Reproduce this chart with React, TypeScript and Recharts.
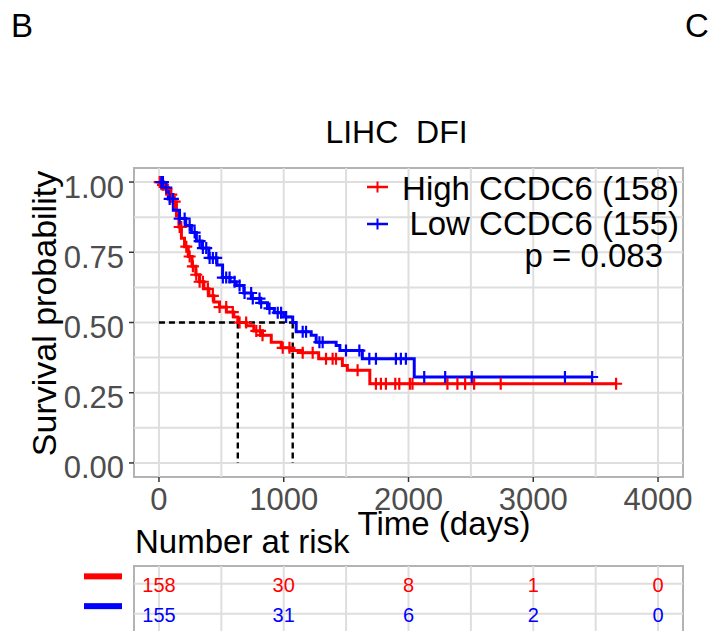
import React from "react";
import {
  ComposedChart,
  Line,
  Scatter,
  XAxis,
  YAxis,
  ReferenceLine,
  ReferenceArea,
} from "recharts";

const FONT = "'Liberation Sans', Arial, Helvetica, sans-serif";

// Kaplan-Meier steps
const highTimes = [0, 25, 55, 85, 115, 140, 160, 180, 205, 235, 265, 295, 325, 360, 400, 440, 485, 540, 600, 632, 700, 760, 830, 900, 980, 1050, 1150, 1280, 1470, 1510, 1690, 3664];
const highSurv = [1, 0.99, 0.975, 0.955, 0.93, 0.88, 0.84, 0.8, 0.77, 0.735, 0.7, 0.67, 0.645, 0.62, 0.595, 0.573, 0.555, 0.537, 0.52, 0.5, 0.488, 0.47, 0.455, 0.43, 0.41, 0.4, 0.392, 0.371, 0.347, 0.33, 0.282, 0.282];
const lowTimes = [0, 35, 75, 115, 165, 215, 260, 300, 345, 400, 465, 510, 570, 620, 680, 740, 810, 870, 925, 1000, 1072, 1100, 1220, 1260, 1420, 1450, 1630, 2046, 3472];
const lowSurv = [1, 0.98, 0.94, 0.9, 0.87, 0.845, 0.82, 0.79, 0.765, 0.73, 0.705, 0.66, 0.645, 0.632, 0.605, 0.585, 0.57, 0.55, 0.535, 0.52, 0.5, 0.467, 0.455, 0.43, 0.418, 0.4, 0.371, 0.306, 0.306];

const highCensor = [6, 32, 59, 99, 126, 166, 179, 219, 246, 272, 299, 326, 352, 392, 432, 486, 539, 592, 646, 699, 780, 810, 830, 992, 1046, 1152, 1232, 1339, 1392, 1419, 1592, 1739, 1779, 1819, 1894, 1926, 2011, 2032, 2312, 2392, 2454, 2526, 2739, 3664];
const lowCensor = [19, 32, 59, 86, 112, 166, 206, 246, 286, 326, 352, 379, 406, 432, 459, 512, 539, 566, 606, 646, 686, 739, 752, 806, 819, 886, 952, 979, 1019, 1152, 1179, 1286, 1312, 1499, 1606, 1686, 1739, 1899, 1939, 1979, 2126, 2294, 2507, 3254, 3472];

const medianTimes = [632, 1072];

const seriesNames = ["High CCDC6 (158)", " Low CCDC6 (155)"];
const seriesColors = ["#ff0000", "#0000ff"];
const pText = "p = 0.083";
const title = "LIHC  DFI";

const xTicks = [0, 1000, 2000, 3000, 4000];
const yTicks = [0, 0.25, 0.5, 0.75, 1];
const xGrid = [0, 500, 1000, 1500, 2000, 2500, 3000, 3500, 4000];
const yGrid = [0, 0.125, 0.25, 0.375, 0.5, 0.625, 0.75, 0.875, 1];

const riskTimes = [0, 1000, 2000, 3000, 4000];
const highRisk = [158, 30, 8, 1, 0];
const lowRisk = [155, 31, 6, 2, 0];

const GRID = "#dedede";
const BORDER = "#b3b3b3";

function survAt(times: number[], surv: number[], t: number) {
  let s = surv[0];
  for (let i = 0; i < times.length; i++) {
    if (times[i] <= t) s = surv[i];
  }
  return s;
}

const highData = highTimes.map((t, i) => ({ t, s: highSurv[i] }));
const lowData = lowTimes.map((t, i) => ({ t, s: lowSurv[i] }));
const highCens = highCensor.map((t) => ({ t, s: survAt(highTimes, highSurv, t) }));
const lowCens = lowCensor.map((t) => ({ t, s: survAt(lowTimes, lowSurv, t) }));

const riskData = [
  ...riskTimes.map((t, i) => ({ t, row: 1, n: highRisk[i], c: seriesColors[0] })),
  ...riskTimes.map((t, i) => ({ t, row: 0, n: lowRisk[i], c: seriesColors[1] })),
];

const plus = (color: string) => (props: any) => {
  const { cx, cy } = props;
  return (
    <path
      d={`M${cx - 6},${cy}H${cx + 6}M${cx},${cy - 6}V${cy + 6}`}
      stroke={color}
      strokeWidth={2.2}
      fill="none"
    />
  );
};

function XTick({ x, y, payload }: any) {
  return (
    <text x={x} y={y} dy={26} textAnchor="middle" fontSize={31} fill="#4d4d4d" fontFamily={FONT}>
      {payload.value}
    </text>
  );
}

function YTick({ x, y, payload }: any) {
  return (
    <text x={x} y={y} dy={15.5} textAnchor="end" fontSize={31} fill="#4d4d4d" fontFamily={FONT}>
      {Number(payload.value).toFixed(2)}
    </text>
  );
}

function RowTick({ x, y, payload }: any) {
  const color = payload.value === 1 ? seriesColors[0] : seriesColors[1];
  return <rect x={x - 38} y={y - 10.5} width={38} height={6} fill={color} />;
}

function RiskLabel(props: any) {
  const { cx, cy, payload } = props;
  return (
    <text x={cx} y={cy + 1.5} textAnchor="middle" dominantBaseline="central" fontSize={20} fill={payload.c} fontFamily={FONT}>
      {payload.n}
    </text>
  );
}

export default function App() {
  return (
    <div style={{ position: "absolute", left: 0, top: 0, width: 712, height: 631, overflow: "hidden", background: "#fff" }}>
      <div style={{ position: "absolute", left: 0, top: 0 }}>
        <ComposedChart width={712} height={520} margin={{ top: 168, right: 29, bottom: 0, left: 0 }}>
          <XAxis
            type="number"
            dataKey="t"
            domain={[-200, 4200]}
            ticks={xTicks}
            interval={0}
            allowDataOverflow
            height={43}
            axisLine={false}
            tickSize={5}
            tickMargin={2}
            tickLine={{ stroke: "#333", strokeWidth: 1.5 }}
            tick={<XTick />}
          />
          <YAxis
            type="number"
            dataKey="s"
            domain={[-0.05, 1.05]}
            ticks={yTicks}
            interval={0}
            allowDataOverflow
            width={134}
            axisLine={false}
            tickSize={5}
            tickMargin={5}
            tickLine={{ stroke: "#333", strokeWidth: 1.5 }}
            tick={<YTick />}
          />
          {xGrid.map((v) => (
            <ReferenceLine key={`gx${v}`} x={v} stroke={GRID} strokeWidth={2} />
          ))}
          {yGrid.map((v) => (
            <ReferenceLine key={`gy${v}`} y={v} stroke={GRID} strokeWidth={2} />
          ))}
          <ReferenceLine
            segment={[{ x: 0, y: 0.5 }, { x: medianTimes[1], y: 0.5 }]}
            stroke="#000"
            strokeWidth={2.4}
            strokeDasharray="6 4"
          />
          {medianTimes.map((m) => (
            <ReferenceLine
              key={`m${m}`}
              segment={[{ x: m, y: 0.5 }, { x: m, y: 0 }]}
              stroke="#000"
              strokeWidth={2.4}
              strokeDasharray="6 4"
            />
          ))}
          <Line data={highData} dataKey="s" type="stepAfter" stroke={seriesColors[0]} strokeWidth={3} dot={false} isAnimationActive={false} />
          <Line data={lowData} dataKey="s" type="stepAfter" stroke={seriesColors[1]} strokeWidth={3} dot={false} isAnimationActive={false} />
          <Scatter data={highCens} dataKey="s" shape={plus(seriesColors[0])} isAnimationActive={false} />
          <Scatter data={lowCens} dataKey="s" shape={plus(seriesColors[1])} isAnimationActive={false} />
          <ReferenceArea x1={-200} x2={4200} y1={-0.05} y2={1.05} fill="none" stroke={BORDER} strokeWidth={2} ifOverflow="visible" />
        </ComposedChart>
      </div>

      <div style={{ position: "absolute", left: 0, top: 540 }}>
        <ComposedChart width={712} height={93} margin={{ top: 26, right: 29, bottom: 0, left: 0 }}>
          <XAxis type="number" dataKey="t" domain={[-200, 4200]} allowDataOverflow hide />
          <YAxis
            type="number"
            dataKey="row"
            domain={[-0.65, 1.6]}
            ticks={[0, 1]}
            interval={0}
            width={134}
            axisLine={false}
            tickLine={false}
            tickSize={0}
            tickMargin={12}
            tick={<RowTick />}
          />
          {xGrid.map((v) => (
            <ReferenceLine key={`rx${v}`} x={v} stroke={GRID} strokeWidth={2} />
          ))}
          {[0, 1].map((v) => (
            <ReferenceLine key={`ry${v}`} y={v} stroke={GRID} strokeWidth={2} />
          ))}
          <Scatter data={riskData} dataKey="row" shape={<RiskLabel />} isAnimationActive={false} />
          <ReferenceArea x1={-200} x2={4200} y1={-0.65} y2={1.6} fill="none" stroke={BORDER} strokeWidth={2} ifOverflow="visible" />
        </ComposedChart>
      </div>

      <svg width={712} height={631} style={{ position: "absolute", left: 0, top: 0, pointerEvents: "none" }} fontFamily={FONT}>
        <text x={11} y={37} fontSize={33} fill="#000">B</text>
        <text x={685} y={37} fontSize={33} fill="#000">C</text>
        <text x={396.5} y={143} fontSize={32} textAnchor="middle" fill="#000" style={{ whiteSpace: "pre" }}>
          {title}
        </text>
        {seriesNames.map((name, i) => (
          <g key={name}>
            <line x1={367} x2={388} y1={187 + i * 37} y2={187 + i * 37} stroke={seriesColors[i]} strokeWidth={2.5} />
            <line x1={377.5} x2={377.5} y1={181.5 + i * 37} y2={192.5 + i * 37} stroke={seriesColors[i]} strokeWidth={2} />
            <text x={679} y={200 + i * 35} fontSize={33} textAnchor="end" fill="#000" style={{ whiteSpace: "pre" }}>
              {name}
            </text>
          </g>
        ))}
        <text x={663} y={267} fontSize={33} textAnchor="end" fill="#000">{pText}</text>
        <text transform="translate(56,313.5) rotate(-90)" fontSize={34} textAnchor="middle" fill="#000">
          Survival probability
        </text>
        <text x={444} y={535} fontSize={33} textAnchor="middle" fill="#000">Time (days)</text>
        <text x={135} y={553} fontSize={33} fill="#000">Number at risk</text>
      </svg>
    </div>
  );
}
